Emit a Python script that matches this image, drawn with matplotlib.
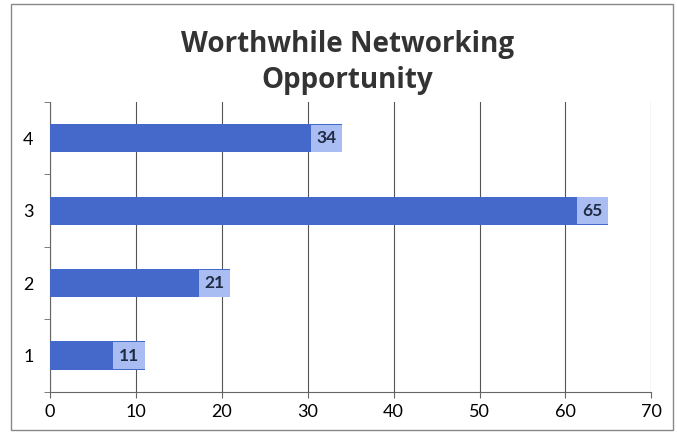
import matplotlib
matplotlib.use("Agg")
import matplotlib.pyplot as plt
from matplotlib.patches import Rectangle

plt.rcParams['font.family'] = ['Lato', 'Open Sans', 'DejaVu Sans']

categories = ['1', '2', '3', '4']
values = [11, 21, 65, 34]
title = 'Worthwhile Networking\nOpportunity'

bar_color = '#4568cb'
label_color = '#a9bdf2'

fig = plt.figure(figsize=(6.77, 4.32), dpi=100)
ax = fig.add_axes([0.074, 0.093, 0.888, 0.671])

pos = range(len(categories))
ax.barh(pos, values, height=0.39, color=bar_color, zorder=3)

# data labels sit inside the bar end, on a lighter box
lbl_size = 12.5
lbl_pad = 0.32
for p, v in zip(pos, values):
    ax.annotate(str(v), xy=(v, p), xytext=(-lbl_pad * lbl_size, 0),
                textcoords='offset points', ha='right', va='center',
                fontsize=lbl_size, fontweight='bold', color='#1f2a44', zorder=4,
                bbox=dict(boxstyle='square,pad=%.2f' % lbl_pad,
                          facecolor=label_color, edgecolor='none'))

ax.set_xlim(0, 70)
ax.set_ylim(-0.5, len(categories) - 0.5)
ax.set_xticks(range(0, 71, 10))
ax.set_yticks(list(pos))
ax.set_yticklabels(categories)
ax.set_yticks([i - 0.5 for i in range(len(categories) + 1)], minor=True)

ax.grid(axis='x', color='#555555', linewidth=0.8, zorder=0)
for side in ['top', 'right']:
    ax.spines[side].set_visible(False)
for side in ['left', 'bottom']:
    ax.spines[side].set_color('#666666')
    ax.spines[side].set_linewidth(0.8)

ax.tick_params(axis='x', labelsize=13, length=4, color='#666666', pad=5)
ax.tick_params(axis='y', which='major', labelsize=13, length=0, pad=12)
ax.tick_params(axis='y', which='minor', length=4, color='#666666')

fig.text(0.513, 0.855, title, ha='center', va='center', fontsize=20,
         fontweight='bold', color='#333333', linespacing=1.3,
         family=['Open Sans', 'DejaVu Sans'])

fig.patches.append(Rectangle((0.016, 0.005), 0.978, 0.985, transform=fig.transFigure,
                             fill=False, edgecolor='#888888', linewidth=1))

fig.savefig('out.png', dpi=100)
